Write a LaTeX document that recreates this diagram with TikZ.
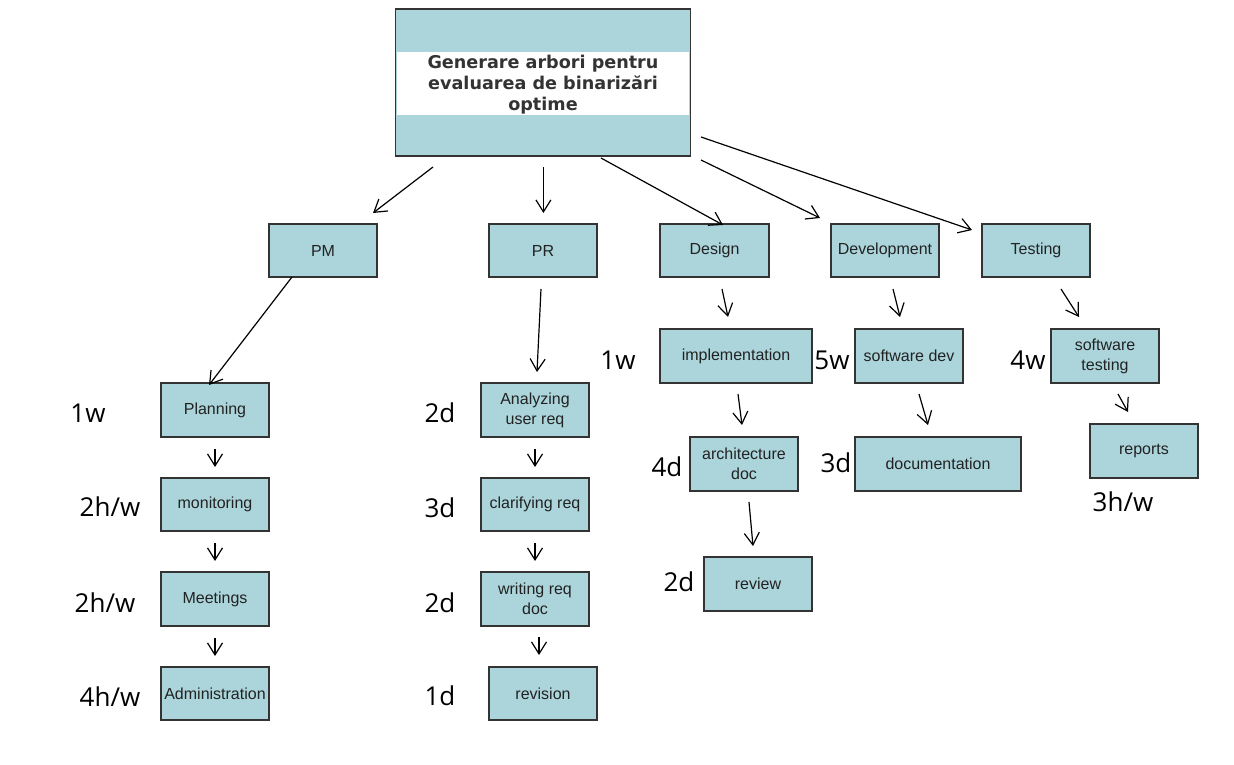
\documentclass[tikz,border=0pt]{standalone}
\usepackage{fontspec}
\setmainfont{Liberation Sans}
\newfontfamily\labelfont{Open Sans}
\newfontfamily\titlefont{DejaVu Sans}
\usetikzlibrary{arrows.meta}
\definecolor{boxblue}{RGB}{171,213,219}
\definecolor{boxline}{RGB}{51,51,51}
\definecolor{txt}{RGB}{34,34,34}
\tikzset{
  box/.style={draw=boxline, line width=1.3pt, fill=boxblue, inner sep=0pt,
    text=txt, font=\fontsize{16}{20}\selectfont, align=center,
    minimum width=108pt, minimum height=54pt},
  est/.style={anchor=base, inner sep=0pt, font=\labelfont\fontsize{26}{30}\selectfont, text=black},
  arr/.style={line width=1.2pt, -{Straight Barb[length=12pt,width=15pt,line width=1.2pt]}},
}
\begin{document}
\begin{tikzpicture}[x=1pt,y=-1pt]
\useasboundingbox (0,0) rectangle (1234,765);
% top box
\node[box, minimum width=295pt, minimum height=147pt] (top) at (543,82.5) {};
\fill[white] (396.8,52) rectangle (689.2,115);
\node[inner sep=0pt, align=center, text=boxline, font=\titlefont\bfseries\fontsize{17.6}{21}\selectfont] (toptext) at (543,85)
  {Generare arbori pentru\\evaluarea de binarizări\\optime};
% level 1
\node[box, minimum height=53pt] (pm) at (323,250.5) {PM};
\node[box, minimum height=53pt] (pr) at (543,250.5) {PR};
\node[box, minimum height=53pt, minimum width=109pt] (design) at (714.5,250.5) {Design};
\node[box, minimum height=53pt] (dev) at (885,250.5) {Development};
\node[box, minimum height=53pt] (test) at (1036,250.5) {Testing};
% PM column
\node[box] (plan) at (215,410) {Planning};
\node[box, minimum height=53pt] (mon) at (215,504.5) {monitoring};
\node[box] (meet) at (215,599) {Meetings};
\node[box, minimum height=53pt] (adm) at (215,693.5) {Administration};
% PR column
\node[box] (anal) at (535,410) {Analyzing\\user req};
\node[box, minimum height=53pt] (clar) at (535,504.5) {clarifying req};
\node[box] (writ) at (535,599) {writing req\\doc};
\node[box, minimum height=53pt] (rev) at (543,693.5) {revision};
% Design column
\node[box, minimum width=152pt] (impl) at (736,356) {implementation};
\node[box] (arch) at (744,464) {architecture\\doc};
\node[box] (review) at (758,584) {review};
% Development column
\node[box] (sdev) at (909,356) {software dev};
\node[box, minimum width=166pt] (docu) at (938,464) {documentation};
% Testing column
\node[box] (stest) at (1105,356) {software\\testing};
\node[box] (rep) at (1144,451) {reports};
% estimates
\node[est] (e1) at (88,422.5) {1w};
\node[est] (e2) at (110,516.5) {2h/w};
\node[est] (e3) at (105,612) {2h/w};
\node[est] (e4) at (110,706) {4h/w};
\node[est] (e5) at (440,422.5) {2d};
\node[est] (e6) at (440,517) {3d};
\node[est] (e7) at (440,612) {2d};
\node[est] (e8) at (440,705.5) {1d};
\node[est] (e9) at (618,369) {1w};
\node[est] (e10) at (832,369) {5w};
\node[est] (e11) at (667,476.5) {4d};
\node[est] (e12) at (679,591.5) {2d};
\node[est] (e13) at (836,472.5) {3d};
\node[est] (e14) at (1028,369) {4w};
\node[est] (e15) at (1123,511) {3h/w};
% arrow end points
\coordinate (a1s) at (433,167); \coordinate (a1e) at (373,213);
\coordinate (a2s) at (543.4,167); \coordinate (a2e) at (543.4,213);
\coordinate (a3s) at (601,158); \coordinate (a3e) at (723,225);
\coordinate (a4s) at (701,160); \coordinate (a4e) at (820,218);
\coordinate (a5s) at (701,137); \coordinate (a5e) at (972,230);
\coordinate (b1s) at (292,277); \coordinate (b1e) at (209,385);
\coordinate (b2s) at (215,449); \coordinate (b2e) at (215,467);
\coordinate (b3s) at (215,543); \coordinate (b3e) at (215,561);
\coordinate (b4s) at (215,638); \coordinate (b4e) at (215,656);
\coordinate (c1s) at (541,289); \coordinate (c1e) at (537,372);
\coordinate (c2s) at (535,449); \coordinate (c2e) at (535,467);
\coordinate (c3s) at (535,543); \coordinate (c3e) at (535,561);
\coordinate (c4s) at (539,637); \coordinate (c4e) at (539,655);
\coordinate (d1s) at (722,289); \coordinate (d1e) at (728,317);
\coordinate (d2s) at (738,394); \coordinate (d2e) at (742,425);
\coordinate (d3s) at (749,502); \coordinate (d3e) at (753,546);
\coordinate (f1s) at (893,289); \coordinate (f1e) at (900,317);
\coordinate (f2s) at (919,394); \coordinate (f2e) at (928,425);
\coordinate (g1s) at (1061,289); \coordinate (g1e) at (1079,317);
\coordinate (g2s) at (1118,394); \coordinate (g2e) at (1128,412);
\foreach \s/\e in {a1s/a1e,a2s/a2e,a3s/a3e,a4s/a4e,a5s/a5e,b1s/b1e,b2s/b2e,b3s/b3e,b4s/b4e,
  c1s/c1e,c2s/c2e,c3s/c3e,c4s/c4e,d1s/d1e,d2s/d2e,d3s/d3e,f1s/f1e,f2s/f2e,g1s/g1e,g2s/g2e}
  \draw[arr] (\s) -- (\e);
\end{tikzpicture}
\end{document}
